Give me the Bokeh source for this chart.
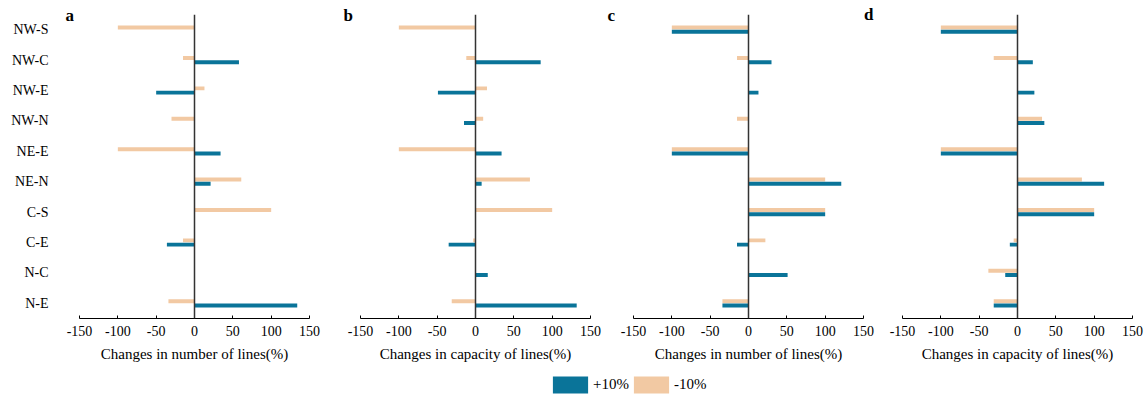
from bokeh.plotting import figure
from bokeh.layouts import row, column
from bokeh.models import (Span, Title, Legend, LegendItem, ColumnDataSource,
                          FactorRange, FixedTicker, Range1d)
from bokeh.transform import dodge
from bokeh.embed import file_html
from bokeh.resources import INLINE

categories = ["NW-S", "NW-C", "NW-E", "NW-N", "NE-E", "NE-N", "C-S", "C-E", "N-C", "N-E"]
ticks = [-150, -100, -50, 0, 50, 100, 150]

a_plus = [0, 58, -50, 0, 34, 21, 0, -36, 0, 134]
a_minus = [-100, -15, 13, -30, -100, 61, 100, -15, 0, -34]
b_plus = [0, 85, -49, -15, 34, 8, 0, -35, 16, 132]
b_minus = [-100, -12, 15, 10, -100, 71, 100, -3, 0, -31]
c_plus = [-100, 30, 13, 0, -100, 121, 100, -15, 51, -34]
c_minus = [-100, -15, 0, -15, -100, 100, 100, 22, 0, -34]
d_plus = [-100, 20, 22, 35, -100, 113, 100, -10, -16, -31]
d_minus = [-100, -31, 0, 32, -100, 84, 100, -5, -38, -31]

panel_letters = ["a", "b", "c", "d"]
x_titles = ["Changes in number of lines(%)", "Changes in capacity of lines(%)",
            "Changes in number of lines(%)", "Changes in capacity of lines(%)"]
series_labels = ["+10%", "-10%"]

BLUE = "#0A7499"
ORANGE = "#F2C9A3"
FONT = "Liberation Serif"

panels = [(a_plus, a_minus), (b_plus, b_minus), (c_plus, c_minus), (d_plus, d_minus)]
# (width, left border, right border)
geom = [(334, 79, 25), (272, 26, 16), (269, 27, 12), (270, 27, 13)]
# letters: (host panel, align, offset in px)
letter_pos = [(0, "left", -14), (1, "left", -17), (2, "left", -26), (2, "right", -10)]

figs = []
for i, ((plus, minus), (w, bl, br)) in enumerate(zip(panels, geom)):
    src = ColumnDataSource(dict(cat=categories, plus=plus, minus=minus))
    p = figure(width=w, height=365, y_range=FactorRange(*categories[::-1], range_padding=0),
               x_range=Range1d(-150, 150), output_backend="svg", toolbar_location=None,
               min_border_left=bl, min_border_right=br, min_border_top=14, min_border_bottom=47)
    p.outline_line_color = None
    p.grid.visible = False
    p.hbar(y=dodge("cat", 0.07, range=p.y_range), right="minus", left=0, height=0.13,
           source=src, color=ORANGE, line_color=None)
    p.hbar(y=dodge("cat", -0.07, range=p.y_range), right="plus", left=0, height=0.13,
           source=src, color=BLUE, line_color=None)
    p.add_layout(Span(location=0, dimension="height", line_color="#333333", line_width=1.5))

    xa = p.xaxis[0]
    xa.ticker = FixedTicker(ticks=ticks)
    xa.major_label_overrides = {t: str(t) for t in ticks}
    xa.axis_line_color = "black"
    xa.axis_line_width = 1.2
    xa.major_tick_in = 3
    xa.major_tick_out = 0
    xa.major_tick_line_color = "black"
    xa.minor_tick_line_color = None
    xa.major_label_text_font = FONT
    xa.major_label_text_font_size = "14px"
    xa.major_label_text_color = "black"
    xa.major_label_standoff = 7
    xa.axis_label = x_titles[i]
    xa.axis_label_text_font = FONT
    xa.axis_label_text_font_size = "15px"
    xa.axis_label_text_font_style = "normal"
    xa.axis_label_text_color = "black"
    xa.axis_label_standoff = 7

    ya = p.yaxis[0]
    if i == 0:
        ya.axis_line_color = None
        ya.major_tick_line_color = None
        ya.minor_tick_line_color = None
        ya.major_tick_out = 0
        ya.major_tick_in = 0
        ya.major_label_text_font = FONT
        ya.major_label_text_font_size = "14px"
        ya.major_label_text_color = "black"
        ya.major_label_standoff = 31
    else:
        ya.visible = False
    figs.append(p)

for letter, (host, al, off) in zip(panel_letters, letter_pos):
    figs[host].add_layout(Title(text=letter, align=al, offset=off, vertical_align="bottom",
                                standoff=-20, text_font=FONT, text_font_size="17px",
                                text_font_style="bold", text_color="black"), "above")

# legend strip
lg = figure(width=1145, height=30, x_range=Range1d(0, 1), y_range=Range1d(0, 1),
            output_backend="svg", toolbar_location=None,
            min_border_left=0, min_border_right=0, min_border_top=0, min_border_bottom=0)
lg.axis.visible = False
lg.grid.visible = False
lg.outline_line_color = None
proxy = ColumnDataSource(dict(y=[-5.0], r=[1.0]))  # off-range proxies for legend swatches
r1 = lg.hbar(y="y", right="r", left=0, height=0.1, source=proxy, color=BLUE, line_color=None)
r2 = lg.hbar(y="y", right="r", left=0, height=0.1, source=proxy, color=ORANGE, line_color=None)
legend = Legend(items=[LegendItem(label=series_labels[0], renderers=[r1]),
                       LegendItem(label=series_labels[1], renderers=[r2])],
                orientation="horizontal", location=(548, 0), glyph_width=44, glyph_height=21,
                label_standoff=1, spacing=0, padding=0, margin=0, border_line_color=None,
                background_fill_alpha=0, label_text_font=FONT, label_text_font_size="15px",
                label_text_color="black")
lg.add_layout(legend, "center")

layout = column(row(*figs), lg)
open("out.html", "w").write(file_html(layout, INLINE))
